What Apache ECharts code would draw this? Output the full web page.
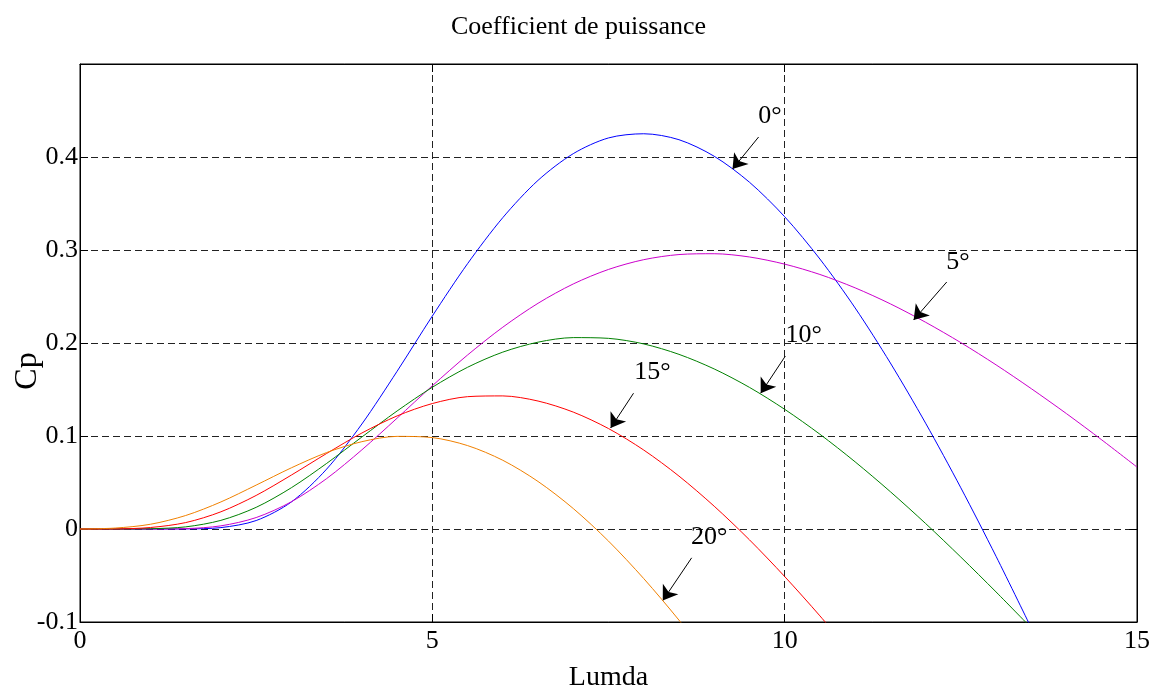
<!DOCTYPE html>
<html>
<head>
<meta charset="utf-8">
<title>Coefficient de puissance</title>
<script src="https://cdn.jsdelivr.net/npm/echarts@6.0.0/dist/echarts.min.js"></script>
<style>
  html, body { margin: 0; padding: 0; background: #fff; }
  #chart { width: 1157px; height: 689px; }
</style>
</head>
<body>
<div id="chart"></div>
<script>
// Tip speed ratio (Lumda) sampled every 0.5
const lambda = [0, 0.5, 1, 1.5, 2, 2.5, 3, 3.5, 4, 4.5, 5, 5.5, 6, 6.5, 7, 7.5,
                8, 8.5, 9, 9.5, 10, 10.5, 11, 11.5, 12, 12.5, 13, 13.5, 14, 14.5, 15];

// Power coefficient Cp for each pitch angle (values past the lower limit get clipped)
const cpBeta0 = [0, 0, 0, 0.0001, 0.0015, 0.0091, 0.0291, 0.0644, 0.1129, 0.1696, 0.229,
                 0.2853, 0.3348, 0.3749, 0.4036, 0.4205, 0.425, 0.4186, 0.4008, 0.3729,
                 0.3358, 0.2903, 0.2377, 0.1785, 0.1138, 0.0443, -0.0294, -0.1065];
const cpBeta5 = [0, 0, 0, 0.0004, 0.0034, 0.0123, 0.0293, 0.0542, 0.0851, 0.1192, 0.154,
                 0.1871, 0.217, 0.2427, 0.2635, 0.2791, 0.2896, 0.2951, 0.296, 0.2925,
                 0.2848, 0.2737, 0.2593, 0.2421, 0.2223, 0.2004, 0.1765, 0.1509, 0.124,
                 0.0958, 0.0666];
const cpBeta10 = [0, 0, 0.0003, 0.0023, 0.0093, 0.0233, 0.0444, 0.0705, 0.0989, 0.1269,
                  0.1524, 0.1739, 0.1902, 0.2009, 0.2058, 0.205, 0.199, 0.1878, 0.1721,
                  0.1523, 0.1287, 0.1019, 0.0722, 0.0401, 0.0059, -0.0302, -0.0677, -0.1064];
const cpBeta15 = [0, 0.0001, 0.0016, 0.0069, 0.0185, 0.0361, 0.058, 0.0812, 0.1032, 0.1216,
                  0.1349, 0.1423, 0.1431, 0.1376, 0.1257, 0.108, 0.0849, 0.0569, 0.0245,
                  -0.0116, -0.0511, -0.0934, -0.1382];
const cpBeta20 = [0, 0.001, 0.0051, 0.0145, 0.0291, 0.0472, 0.0658, 0.0822, 0.0939, 0.0996,
                  0.0983, 0.0897, 0.0739, 0.0511, 0.022, -0.013, -0.0533, -0.098, -0.1468];

const curveNames = ['0°', '5°', '10°', '15°', '20°'];
const curveColors = ['#0000ff', '#cc00cc', '#008000', '#ff0000', '#f08000'];
const curveValues = [cpBeta0, cpBeta5, cpBeta10, cpBeta15, cpBeta20];

// Angle annotations: text anchor and arrow (tail -> head) in data units
const labelAt  = [[9.79, 0.444], [12.46, 0.287], [10.27, 0.2086], [8.125, 0.169], [8.93, -0.0086]];
const arrowTail = [[9.63, 0.4215], [12.30, 0.2656], [10.01, 0.186], [7.855, 0.146], [8.68, -0.031]];
const arrowHead = [[9.26, 0.387], [11.83, 0.2247], [9.66, 0.146], [7.53, 0.1086], [8.27, -0.077]];

const xTicks = [0, 5, 10, 15];
const yTickLabels = [-0.1, 0, 0.1, 0.2, 0.3, 0.4];

const FONT = '"Liberation Serif", "Times New Roman", serif';
const chart = echarts.init(document.getElementById('chart'), null, { renderer: 'canvas' });

const series = curveValues.map((vals, i) => ({
  name: curveNames[i],
  type: 'line',
  data: vals.map((v, k) => [lambda[k], v]),
  showSymbol: false,
  smooth: 0.3,
  clip: true,
  silent: true,
  lineStyle: { color: curveColors[i], width: 1 },
  itemStyle: { color: curveColors[i] },
  z: 3 + i,
  markLine: {
    silent: true,
    symbol: ['none', 'arrow'],
    symbolSize: 14,
    label: { show: false },
    lineStyle: { color: '#000', width: 1, type: 'solid' },
    itemStyle: { color: '#000' },
    emphasis: { disabled: true },
    data: [[{ coord: arrowTail[i] }, { coord: arrowHead[i] }]]
  },
  markPoint: {
    silent: true,
    symbol: 'circle',
    symbolSize: 1,
    itemStyle: { color: 'rgba(0,0,0,0)' },
    label: {
      show: true,
      position: 'inside',
      formatter: curveNames[i],
      color: '#000',
      fontFamily: FONT,
      fontSize: 26
    },
    data: [{ coord: labelAt[i] }]
  }
}));

const baseAxisLine = { show: true, onZero: false, lineStyle: { color: '#000', width: 1 } };
const dashed = { show: true, lineStyle: { color: '#222', width: 1, type: [7, 4] } };
const inTicks = { show: true, inside: true, length: 8, lineStyle: { color: '#000' } };

chart.setOption({
  animation: false,
  backgroundColor: '#fff',
  title: {
    text: 'Coefficient de puissance',
    left: 'center',
    top: 9,
    textStyle: { fontFamily: FONT, fontSize: 26, fontWeight: 'normal', color: '#000' }
  },
  grid: {
    left: 80, right: 20, top: 64, bottom: 67,
    containLabel: false,
    outerBoundsMode: 'none',
    show: true, borderColor: '#000', borderWidth: 1, backgroundColor: '#fff'
  },
  xAxis: [{
    type: 'value', min: 0, max: 15, interval: 5,
    name: 'Lumda', nameLocation: 'middle', nameGap: 42, nameMoveOverlap: false,
    nameTextStyle: { fontFamily: FONT, fontSize: 28, color: '#000' },
    axisLine: baseAxisLine,
    axisTick: inTicks,
    axisLabel: {
      fontFamily: FONT, fontSize: 26, color: '#000', margin: 6,
      formatter: v => (xTicks.indexOf(v) >= 0 ? String(v) : '')
    },
    splitLine: dashed
  }, {
    type: 'value', min: 0, max: 15, interval: 5, position: 'top',
    axisLine: baseAxisLine,
    axisTick: inTicks,
    axisLabel: { show: false },
    splitLine: { show: false }
  }],
  yAxis: [{
    type: 'value', min: -0.1, max: 0.5, interval: 0.1,
    name: 'Cp', nameLocation: 'middle', nameGap: 36, nameRotate: 90, nameMoveOverlap: false,
    nameTextStyle: { fontFamily: FONT, fontSize: 32, color: '#000', padding: [0, 56, 0, 0] },
    axisLine: baseAxisLine,
    axisTick: inTicks,
    axisLabel: {
      fontFamily: FONT, fontSize: 26, color: '#000', margin: 2,
      formatter: v => {
        const r = Math.round(v * 10) / 10;
        return yTickLabels.indexOf(r) >= 0 ? String(r) : '';
      }
    },
    splitLine: dashed
  }, {
    type: 'value', min: -0.1, max: 0.5, interval: 0.1, position: 'right',
    axisLine: baseAxisLine,
    axisTick: inTicks,
    axisLabel: { show: false },
    splitLine: { show: false }
  }],
  series: series
});
</script>
</body>
</html>
